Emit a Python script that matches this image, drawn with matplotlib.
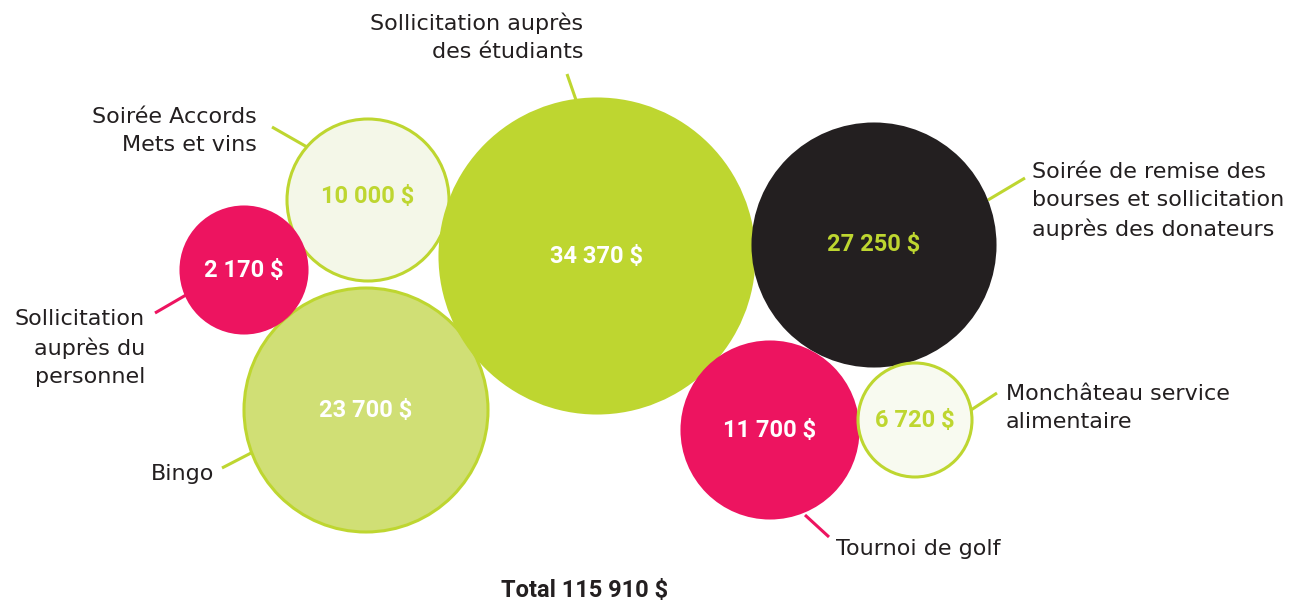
import matplotlib
matplotlib.use("Agg")
import matplotlib.pyplot as plt
from matplotlib.patches import Circle

plt.rcParams["font.family"] = ["Roboto", "DejaVu Sans"]

# data
names = ["Sollicitation auprès\ndes étudiants",
         "Soirée de remise des\nbourses et sollicitation\nauprès des donateurs",
         "Bingo",
         "Tournoi de golf",
         "Soirée Accords\nMets et vins",
         "Monchâteau service\nalimentaire",
         "Sollicitation\nauprès du\npersonnel"]
values = [34370, 27250, 23700, 11700, 10000, 6720, 2170]

# layout (pixels, y down)
centers = [(597, 256), (874, 245), (366, 410), (770, 430), (368, 200), (915, 420), (244, 270)]
radii = [157, 121, 122, 88, 81, 57, 63]
fills = ["#bed630", "#231f20", "#d0df75", "#ed1460", "#f4f7e8", "#f8faf0", "#ed1460"]
edges = ["#bed630", "#231f20", "#bed630", "#ed1460", "#bed630", "#bed630", "#ed1460"]
value_colors = ["white", "#bed630", "white", "white", "#bed630", "#bed630", "white"]
label_pos = [(583, 37, "right"), (1032, 201, "left"),
             (214, 474, "right"), (836, 549, "left"),
             (257, 131, "right"), (1006, 408, "left"),
             (145, 348, "right")]
leaders = [((567, 74), (576, 100)), ((1025, 178), (988, 200)),
           ((222, 468), (253, 452)), ((829, 537), (805, 515)),
           ((272, 127), (307, 147)), ((997, 393), (971, 410)),
           ((155, 313), (186, 295))]
draw_order = [2, 4, 6, 0, 1, 3, 5]

fig = plt.figure(figsize=(12.89, 6.05), dpi=100)
ax = fig.add_axes([0, 0, 1, 1])
ax.set_xlim(0, 1289)
ax.set_ylim(605, 0)
ax.set_aspect("equal")
ax.axis("off")

for i in draw_order:
    (x0, y0), (x1, y1) = leaders[i]
    ax.plot([x0, x1], [y0, y1], color=edges[i] if fills[i] != "#231f20" else "#bed630",
            lw=2.2, solid_capstyle="butt", zorder=1)

for k, i in enumerate(draw_order):
    ax.add_patch(Circle(centers[i], radii[i], facecolor=fills[i],
                        edgecolor=edges[i], lw=2.2, zorder=2 + k))
    txt = f"{values[i]:,}".replace(",", " ") + " $"
    ax.text(centers[i][0], centers[i][1] - 3 if i == 4 else centers[i][1], txt,
            ha="center", va="center", color=value_colors[i], fontsize=17,
            fontweight="bold", zorder=20)

for i in range(len(names)):
    x, y, ha = label_pos[i]
    ax.text(x, y, names[i], ha=ha, va="center", fontsize=16, color="#231f20",
            family="DejaVu Sans", linespacing=1.52, multialignment=ha, zorder=20)

total = sum(values)
ax.text(585, 591, "Total " + f"{total:,}".replace(",", " ") + " $", ha="center",
        va="center", fontsize=17, fontweight="bold", color="#231f20")

fig.savefig("out.png", dpi=100, facecolor="white")
